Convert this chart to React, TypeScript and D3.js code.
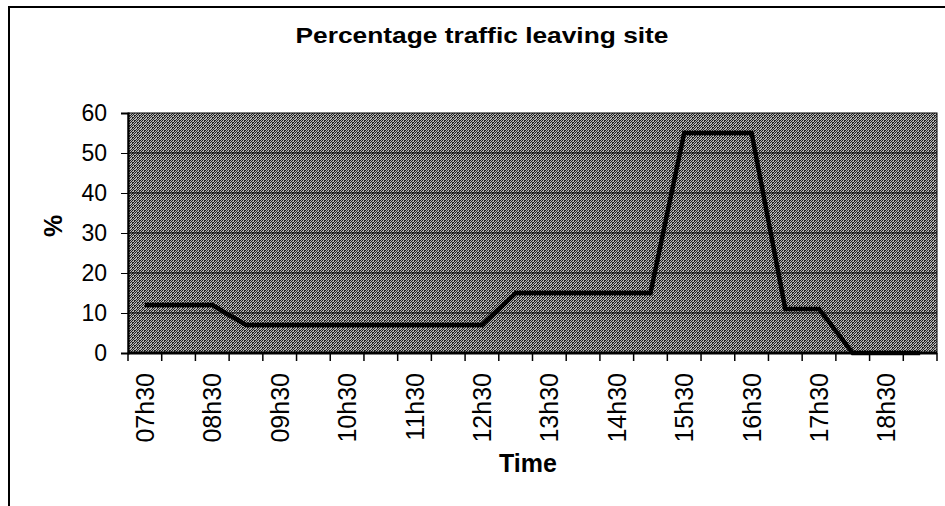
import React, { useEffect, useRef } from "react";
import * as d3 from "d3";

// half-hour slots along the x axis
const times = [
  "07h30", "08h00", "08h30", "09h00", "09h30", "10h00", "10h30", "11h00",
  "11h30", "12h00", "12h30", "13h00", "13h30", "14h00", "14h30", "15h00",
  "15h30", "16h00", "16h30", "17h00", "17h30", "18h00", "18h30", "19h00",
];
// % of traffic leaving site per slot
const leaving = [
  12, 12, 12, 7, 7, 7, 7, 7,
  7, 7, 7, 15, 15, 15, 15, 15,
  55, 55, 55, 11, 11, 0, 0, 0,
];
const yTicks = [0, 10, 20, 30, 40, 50, 60];

const W = 945;
const H = 506;

export default function App() {
  const svgRef = useRef<SVGSVGElement>(null);

  useEffect(() => {
    if (!svgRef.current) return;
    const svg = d3.select(svgRef.current);
    svg.selectAll("*").remove();

    const font = "Liberation Sans, Arial, sans-serif";
    const plot = { left: 128, right: 937, top: 113, bottom: 353 };

    // outer chart frame (runs off the right/bottom of the picture)
    svg.append("rect")
      .attr("x", 9).attr("y", 7)
      .attr("width", W).attr("height", H)
      .attr("fill", "#fff")
      .attr("stroke", "#000")
      .attr("stroke-width", 2);

    // dithered grey background for the plot area
    const defs = svg.append("defs");
    const pat = defs.append("pattern")
      .attr("id", "dither")
      .attr("patternUnits", "userSpaceOnUse")
      .attr("width", 5).attr("height", 5);
    pat.append("rect").attr("width", 5).attr("height", 5).attr("fill", "#b4b4b4");
    [[0, 0], [2, 0], [4, 1], [1, 1], [3, 2], [0, 2], [2, 3], [4, 3], [1, 4], [3, 4], [4, 0], [2, 2]].forEach(([px, py]) => {
      pat.append("rect")
        .attr("x", px).attr("y", py)
        .attr("width", 1).attr("height", 1)
        .attr("fill", "#222");
    });

    const x = d3.scaleBand<string>()
      .domain(times)
      .range([plot.left, plot.right])
      .padding(0);
    const y = d3.scaleLinear()
      .domain([0, 60])
      .range([plot.bottom, plot.top]);

    svg.append("rect")
      .attr("x", plot.left).attr("y", plot.top)
      .attr("width", plot.right - plot.left)
      .attr("height", plot.bottom - plot.top)
      .attr("fill", "url(#dither)")
      .attr("stroke", "#000")
      .attr("stroke-width", 1);

    // gridlines
    svg.append("g")
      .selectAll("line")
      .data(yTicks.filter(t => t > 0 && t < 60))
      .join("line")
      .attr("x1", plot.left).attr("x2", plot.right)
      .attr("y1", d => y(d)).attr("y2", d => y(d))
      .attr("stroke", "#000")
      .attr("stroke-width", 1.2);

    // y axis
    const yAxis = svg.append("g")
      .attr("transform", `translate(${plot.left},0)`)
      .call(d3.axisLeft(y).tickValues(yTicks).tickSize(7).tickPadding(14));
    yAxis.select(".domain").attr("stroke", "#000").attr("stroke-width", 2);
    yAxis.selectAll(".tick line").attr("stroke", "#000");
    yAxis.selectAll("text")
      .attr("font-family", font)
      .attr("font-size", 23)
      .attr("fill", "#000");

    // x axis: ticks at slot edges, labels every other slot
    const edges = [...times.map(t => x(t) as number), plot.right];
    svg.append("line")
      .attr("x1", plot.left).attr("x2", plot.right)
      .attr("y1", plot.bottom).attr("y2", plot.bottom)
      .attr("stroke", "#000").attr("stroke-width", 3);
    svg.append("g")
      .selectAll("line")
      .data(edges)
      .join("line")
      .attr("x1", d => d).attr("x2", d => d)
      .attr("y1", plot.bottom).attr("y2", plot.bottom + 8)
      .attr("stroke", "#000").attr("stroke-width", 1.5);

    const half = x.bandwidth() / 2;
    svg.append("g")
      .selectAll("text")
      .data(times.filter((_, i) => i % 2 === 0))
      .join("text")
      .attr("transform", d => `translate(${(x(d) as number) + half},${plot.bottom + 20}) rotate(-90)`)
      .attr("text-anchor", "end")
      .attr("dy", "0.36em")
      .attr("font-family", font)
      .attr("font-size", 25)
      .attr("fill", "#000")
      .text(d => d);

    // data line
    const line = d3.line<number>()
      .x((_, i) => (x(times[i]) as number) + half)
      .y(d => y(d));
    svg.append("path")
      .datum(leaving)
      .attr("fill", "none")
      .attr("stroke", "#000")
      .attr("stroke-width", 4.5)
      .attr("stroke-linejoin", "miter")
      .attr("d", line);

    // titles
    svg.append("text")
      .attr("x", 482).attr("y", 43)
      .attr("text-anchor", "middle")
      .attr("font-family", font)
      .attr("font-weight", "bold")
      .attr("font-size", 22)
      .attr("textLength", 373)
      .attr("lengthAdjust", "spacingAndGlyphs")
      .text("Percentage traffic leaving site");

    svg.append("text")
      .attr("x", 528).attr("y", 472)
      .attr("text-anchor", "middle")
      .attr("font-family", font)
      .attr("font-weight", "bold")
      .attr("font-size", 25)
      .text("Time");

    svg.append("text")
      .attr("transform", "translate(62,226) rotate(-90)")
      .attr("text-anchor", "middle")
      .attr("font-family", font)
      .attr("font-weight", "bold")
      .attr("font-size", 25)
      .text("%");
  }, []);

  return (
    <svg
      ref={svgRef}
      width={W}
      height={H}
      style={{ position: "absolute", left: 0, top: 0, background: "#fff" }}
    />
  );
}
